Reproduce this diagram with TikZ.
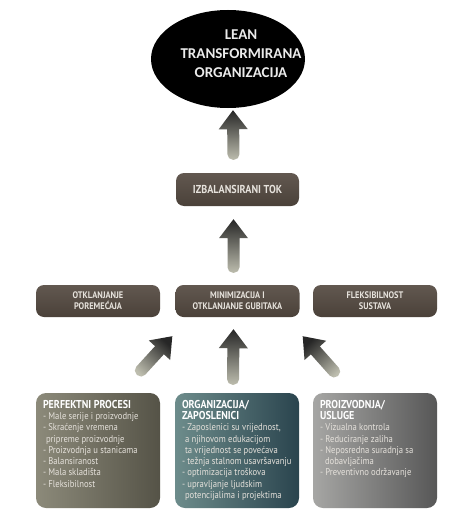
\documentclass[tikz,border=0pt]{standalone}
\usepackage{fontspec}
\setmainfont[FakeStretch=0.88]{PT Sans}
\newfontfamily\ellfont{Carlito}
\usetikzlibrary{calc,shapes.geometric}

\definecolor{boxtext}{HTML}{E6E2DC}
\definecolor{topA}{HTML}{625850}
\definecolor{topB}{HTML}{4A4139}
\definecolor{ppA}{HTML}{8C8A7A}
\definecolor{ppB}{HTML}{555347}
\definecolor{orgA}{HTML}{6D8C8B}
\definecolor{orgB}{HTML}{2A444E}
\definecolor{proA}{HTML}{A6A6A4}
\definecolor{proB}{HTML}{575757}
\definecolor{arrowdark}{HTML}{262626}
\definecolor{arrowmid}{HTML}{6C6C64}
\definecolor{arrowlight}{HTML}{BDBDAE}

\tikzset{
  leanshape/.style={ellipse, fill=black, minimum width=154pt, minimum height=98pt, inner sep=0pt},
  leantext/.style={text=white!92!black, align=center, font=\ellfont\bfseries\fontsize{15}{19}\selectfont},
  topbox/.style={rounded corners=8pt, top color=topA, bottom color=topB, text=boxtext, align=center,
    minimum width=124pt, minimum height=32pt, inner sep=0pt, font=\bfseries\fontsize{9.5}{11}\selectfont},
  listbox/.style={rounded corners=10pt, minimum width=124pt, minimum height=115pt, inner sep=0pt, text=boxtext},
  arrowshade/.style={top color=arrowdark, middle color=arrowmid, bottom color=arrowlight},
}

% fat arrow from tail #1 to tip #2, shading turned by #3
\newcommand{\blockarrow}[3]{%
  \coordinate (hb) at ($(#2)!19pt!(#1)$);
  \shade[arrowshade, shading angle=#3]
    ($(hb)!6pt!90:(#2)$) -- ($(hb)!14.5pt!90:(#2)$) -- (#2)
    -- ($(hb)!14.5pt!-90:(#2)$) -- ($(hb)!6pt!-90:(#2)$)
    [rounded corners=5.5pt] -- ($(#1)!6pt!-90:(#2)$) -- ($(#1)!6pt!90:(#2)$) [sharp corners] -- cycle;
}

\newcommand{\listhead}[1]{{\color{white}\bfseries\fontsize{11.4}{12.3}\selectfont #1}}

\begin{document}
\begin{tikzpicture}[x=1pt, y=-1pt]

    \useasboundingbox (0,0) rectangle (464,519);
    \fill[white] (0,0) rectangle (464,519);

    \node[leanshape] (lean) at (228,59) {};
    \node[leantext] (leanlbl) at (241,54) {LEAN\\TRANSFORMIRANA\\ORGANIZACIJA};

    \node[topbox, minimum width=123pt, minimum height=33pt, font=\bfseries\fontsize{11.5}{13}\selectfont] (izb) at (237.5,189.5) {IZBALANSIRANI TOK};

    \node[topbox] (otk) at (98,301) {OTKLANJANJE\\POREMEĆAJA};
    \node[topbox] (min) at (237.5,301) {MINIMIZACIJA I\\OTKLANJANJE GUBITAKA};
    \node[topbox] (fle) at (375,301) {FLEKSIBILNOST\\SUSTAVA};

    \node[listbox, left color=ppA, right color=ppB] (pp) at (98,450.5) {\parbox[t][101pt][t]{110pt}{\raggedright\fontsize{9.8}{11.3}\selectfont
      \listhead{PERFEKTNI PROCESI}\\
      - Male serije i proizvodnje\\
      - Skraćenje vremena\\
      \hspace*{3pt}pripreme proizvodnje\\
      - Proizvodnja u stanicama\\
      - Balansiranost\\
      - Mala skladišta\\
      - Fleksibilnost}};

    \node[listbox, left color=orgA, right color=orgB] (org) at (237,450.5) {\parbox[t][101pt][t]{110pt}{\raggedright\fontsize{9.8}{11.3}\selectfont
      \listhead{ORGANIZACIJA/\\ZAPOSLENICI}\\
      - Zaposlenici su vrijednost,\\
      \hspace*{3pt}a njihovom edukacijom\\
      \hspace*{3pt}ta vrijednost se povećava\\
      - težnja stalnom usavršavanju\\
      - optimizacija troškova\\
      - upravljanje ljudskim\\
      \hspace*{3pt}potencijalima i projektima}};

    \node[listbox, left color=proA, right color=proB] (pro) at (375,450.5) {\parbox[t][101pt][t]{110pt}{\raggedright\fontsize{9.8}{11.3}\selectfont
      \listhead{PROIZVODNJA/\\USLUGE}\\
      - Vizualna kontrola\\
      - Reduciranje zaliha\\
      - Neposredna suradnja sa\\
      \hspace*{5pt}dobavljačima\\
      - Preventivno održavanje}};

    % arrow ends
    \coordinate (t1) at ($(izb.north)+(-4,-13)$);
    \coordinate (h1) at ($(lean.south)+(5,2)$);
    \coordinate (t2) at ($(min.north)+(-4,-12)$);
    \coordinate (h2) at ($(izb.south)+(-4,13)$);
    \coordinate (t3) at ($(org.north)+(-4,-8)$);
    \coordinate (h3) at ($(min.south)+(-4,12)$);
    \coordinate (t4) at ($(pp.north)+(39,-18)$);
    \coordinate (h4) at ($(min.south west)+(-3,19)$);
    \coordinate (t5) at ($(pro.north)+(-37,-17)$);
    \coordinate (h5) at ($(min.south east)+(3,19)$);

    \blockarrow{t1}{h1}{0}
    \blockarrow{t2}{h2}{0}
    \blockarrow{t3}{h3}{0}
    \blockarrow{t4}{h4}{-43}
    \blockarrow{t5}{h5}{42}

\end{tikzpicture}
\end{document}
